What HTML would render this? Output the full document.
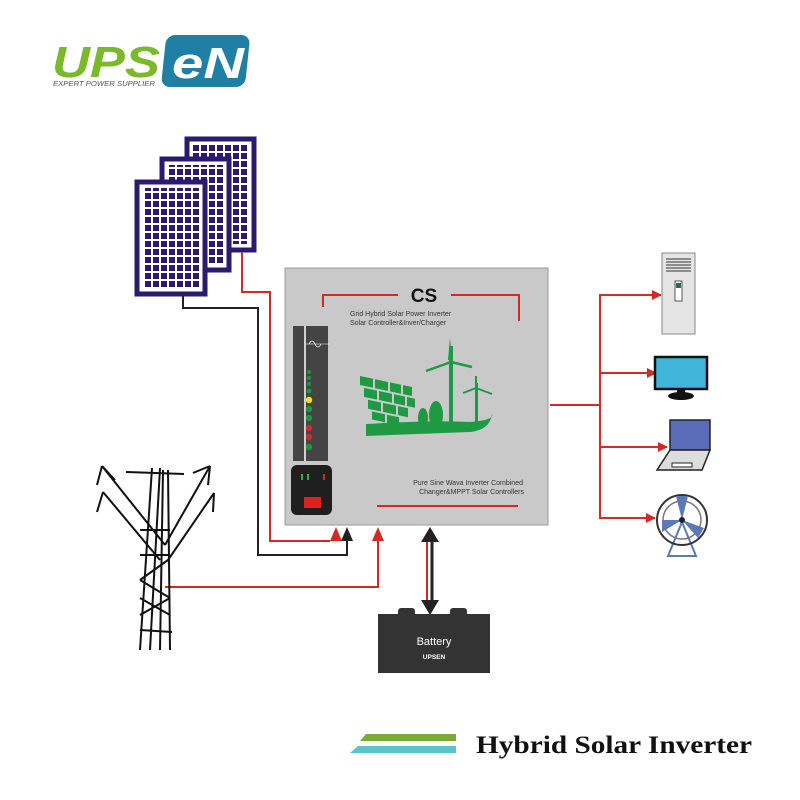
<!DOCTYPE html>
<html><head><meta charset="utf-8"><style>
html,body{margin:0;padding:0;background:#fff;width:800px;height:800px;overflow:hidden}
svg{display:block}
text{font-family:"Liberation Sans",sans-serif}
</style></head><body>
<svg width="800" height="800" viewBox="0 0 800 800" xmlns="http://www.w3.org/2000/svg">
<defs>
<pattern id="cells" x="0" y="0" width="8" height="8" patternUnits="userSpaceOnUse">
<rect x="1" y="1" width="6" height="6" fill="#2b1b6e"/></pattern>
<marker id="ar" viewBox="0 0 10 10" refX="9" refY="5" markerWidth="5" markerHeight="5" orient="auto"><path d="M0,0L10,5L0,10z" fill="#d32a25"/></marker>
</defs>
<!-- logo -->
<text x="52" y="77" font-size="44" font-weight="bold" font-style="italic" fill="#7ab929" textLength="108" lengthAdjust="spacingAndGlyphs">UPS</text>
<rect x="165" y="35" width="84" height="52" rx="9" fill="#1f7fa5" transform="skewX(-6) translate(5,0)"/>
<text x="172" y="78" font-size="44" font-weight="bold" font-style="italic" fill="#fff" textLength="72" lengthAdjust="spacingAndGlyphs">eN</text>
<text x="53" y="86" font-size="7.5" font-style="italic" fill="#555" textLength="102" lengthAdjust="spacingAndGlyphs">EXPERT POWER SUPPLIER</text>
<!-- panels -->
<g>
<rect x="187" y="139" width="67" height="111" fill="#fff" stroke="#2b1b6e" stroke-width="5"/>
<rect x="193" y="145" width="55" height="99" fill="url(#cells)"/>
<rect x="162" y="159" width="67" height="111" fill="#fff" stroke="#2b1b6e" stroke-width="5"/>
<rect x="168" y="165" width="55" height="99" fill="url(#cells)"/>
<rect x="137" y="182" width="68" height="112" fill="#fff" stroke="#2b1b6e" stroke-width="5"/>
<rect x="143" y="188" width="56" height="100" fill="url(#cells)"/>
</g>
<!-- wires -->
<polyline points="242,252 242,292 270,292 270,541 330,541" fill="none" stroke="#d32a25" stroke-width="2"/>
<polygon points="336,527 330,541 342,541" fill="#d32a25"/>
<polyline points="183,296 183,308 258,308 258,555 347,555 347,540" fill="none" stroke="#222" stroke-width="2"/>
<polygon points="347,527 341,541 353,541" fill="#222"/>
<polyline points="165,587 378,587 378,540" fill="none" stroke="#d32a25" stroke-width="2"/>
<polygon points="378,527 372,541 384,541" fill="#d32a25"/>
<line x1="427" y1="540" x2="427" y2="603" stroke="#d32a25" stroke-width="2"/>
<line x1="432" y1="540" x2="432" y2="603" stroke="#222" stroke-width="3"/>
<polygon points="430,527 421,542 439,542" fill="#222"/>
<polygon points="430,615 421,600 439,600" fill="#222"/>
<!-- inverter -->
<rect x="285" y="268" width="263" height="257" fill="#c9c9c9" stroke="#9a9a9a"/>
<polyline points="323,307 323,295 398,295" fill="none" stroke="#d32a25" stroke-width="2"/>
<polyline points="451,295 519,295 519,321" fill="none" stroke="#d32a25" stroke-width="2"/>
<text x="424" y="302" font-size="19" font-weight="bold" text-anchor="middle" fill="#111">CS</text>
<text x="350" y="316" font-size="7" fill="#333">Grid Hybrid Solar Power Inverter</text>
<text x="350" y="325" font-size="7" fill="#333">Solar Controller&amp;Inver/Charger</text>
<rect x="293" y="326" width="35" height="135" fill="#444"/>
<line x1="305" y1="326" x2="305" y2="461" stroke="#fff" stroke-width="1.5"/>
<path d="M309,344 q3,-6 6,0 t6,0" fill="none" stroke="#fff" stroke-width="0.8"/>
<line x1="305" y1="344" x2="330" y2="344" stroke="#fff" stroke-width="0.6"/>
<g fill="#1a9a3a"><circle cx="309" cy="372" r="2"/><circle cx="309" cy="378" r="2"/><circle cx="309" cy="384" r="2"/><circle cx="309" cy="391" r="2.5"/>
<circle cx="309" cy="409" r="3.2"/><circle cx="309" cy="418" r="3.2"/><circle cx="309" cy="447" r="3.2"/></g>
<circle cx="309" cy="400" r="3.2" fill="#f2e51a"/>
<circle cx="309" cy="428" r="3.2" fill="#d32a25"/><circle cx="309" cy="437" r="3.2" fill="#d32a25"/>
<rect x="291" y="465" width="41" height="50" rx="6" fill="#1f1f1f"/>
<rect x="301" y="474" width="2" height="6" fill="#2db34a"/><rect x="307" y="474" width="2" height="6" fill="#2db34a"/><rect x="323" y="474" width="2" height="6" fill="#d32a25"/>
<rect x="304" y="497" width="17" height="11" fill="#e02020"/>
<text x="523" y="485" font-size="7" text-anchor="end" fill="#333">Pure Sine Wava Inverter Combined</text>
<text x="524" y="494" font-size="7" text-anchor="end" fill="#333">Changer&amp;MPPT Solar Controllers</text>
<line x1="377" y1="506" x2="518" y2="506" stroke="#d32a25" stroke-width="2"/>
<!-- green graphic -->
<g fill="#1e9a42">
<g transform="translate(360,376) skewY(12)">
<rect x="0" y="0" width="13" height="9"/><rect x="15" y="0" width="13" height="9"/><rect x="30" y="0" width="11" height="9"/><rect x="43" y="0" width="9" height="9"/>
<rect x="4" y="11" width="13" height="9"/><rect x="19" y="11" width="13" height="9"/><rect x="34" y="11" width="11" height="9"/><rect x="47" y="11" width="8" height="9"/>
<rect x="8" y="22" width="13" height="9"/><rect x="23" y="22" width="13" height="9"/><rect x="38" y="22" width="10" height="9"/>
<rect x="12" y="33" width="13" height="8"/><rect x="27" y="33" width="12" height="8"/>
</g>
<path d="M366,424 Q430,420 470,422 Q495,420 492,414 Q490,430 470,432 L366,436z"/>
<rect x="449" y="346" width="4" height="82"/>
<path d="M450,338 L452,360 L448,360z"/>
<line x1="451" y1="362" x2="426" y2="371" stroke="#1e9a42" stroke-width="2.5"/>
<line x1="451" y1="362" x2="472" y2="367" stroke="#1e9a42" stroke-width="2.5"/>
<rect x="475" y="383" width="3" height="45"/>
<line x1="476" y1="376" x2="476" y2="388" stroke="#1e9a42" stroke-width="2"/>
<line x1="476" y1="388" x2="463" y2="393" stroke="#1e9a42" stroke-width="2"/>
<line x1="476" y1="388" x2="492" y2="394" stroke="#1e9a42" stroke-width="2"/>
<ellipse cx="436" cy="415" rx="7" ry="14"/><rect x="435" y="420" width="3" height="12"/>
<ellipse cx="423" cy="418" rx="5" ry="10"/><rect x="422" y="420" width="2" height="12"/>
</g>
<!-- battery -->
<rect x="398" y="608" width="17" height="10" rx="3" fill="#333"/><rect x="450" y="608" width="17" height="10" rx="3" fill="#333"/>
<rect x="378" y="614" width="112" height="59" fill="#333"/>
<text x="434" y="645" font-size="11" fill="#fff" text-anchor="middle">Battery</text>
<text x="434" y="659" font-size="6.5" font-weight="bold" fill="#fff" text-anchor="middle">UPSEN</text>
<!-- tower -->
<g stroke="#111" stroke-width="2" fill="none">
<line x1="152" y1="468" x2="140" y2="650"/><line x1="160" y1="468" x2="150" y2="650"/>
<line x1="163" y1="470" x2="160" y2="650"/><line x1="168" y1="470" x2="170" y2="650"/>
<line x1="126" y1="472" x2="184" y2="474"/>
<line x1="102" y1="466" x2="165" y2="545"/><line x1="102" y1="466" x2="97" y2="485"/><line x1="102" y1="466" x2="115" y2="480"/>
<line x1="103" y1="492" x2="160" y2="560"/><line x1="103" y1="492" x2="97" y2="512"/>
<line x1="210" y1="466" x2="165" y2="545"/><line x1="210" y1="466" x2="193" y2="473"/><line x1="210" y1="466" x2="208" y2="485"/>
<line x1="214" y1="493" x2="168" y2="560"/><line x1="214" y1="493" x2="213" y2="512"/>
<line x1="140" y1="530" x2="170" y2="530"/><line x1="140" y1="555" x2="170" y2="555"/>
<line x1="140" y1="580" x2="168" y2="560"/><line x1="140" y1="580" x2="170" y2="598"/>
<line x1="140" y1="598" x2="170" y2="615"/><line x1="170" y1="598" x2="140" y2="615"/>
<line x1="140" y1="630" x2="172" y2="632"/>
</g>
<!-- output -->
<line x1="550" y1="405" x2="600" y2="405" stroke="#d32a25" stroke-width="2"/>
<line x1="600" y1="294" x2="600" y2="519" stroke="#d32a25" stroke-width="2"/>
<g stroke="#d32a25" stroke-width="2" marker-end="url(#ar)">
<line x1="600" y1="295" x2="661" y2="295"/><line x1="600" y1="373" x2="656" y2="373"/>
<line x1="600" y1="447" x2="667" y2="447"/><line x1="600" y1="518" x2="655" y2="518"/>
</g>
<!-- AC -->
<rect x="662" y="253" width="33" height="81" fill="#e4e4e4" stroke="#888"/>
<g stroke="#333" stroke-width="1"><line x1="666" y1="259" x2="691" y2="259"/><line x1="666" y1="262" x2="691" y2="262"/><line x1="666" y1="265" x2="691" y2="265"/><line x1="666" y1="268" x2="691" y2="268"/><line x1="666" y1="271" x2="691" y2="271"/></g>
<rect x="675" y="281" width="7" height="20" fill="#fff" stroke="#555"/><rect x="676" y="283" width="5" height="5" fill="#2a6a4a"/>
<!-- monitor -->
<rect x="655" y="357" width="52" height="32" fill="#3fb6d9" stroke="#111" stroke-width="2.5"/>
<rect x="677" y="389" width="8" height="4" fill="#111"/><ellipse cx="681" cy="396" rx="13" ry="4" fill="#111"/>
<!-- laptop -->
<rect x="670" y="420" width="40" height="30" fill="#5b6db8" stroke="#222" stroke-width="1.5"/>
<polygon points="670,450 710,450 702,470 657,470" fill="#ddd" stroke="#222" stroke-width="1.5"/>
<rect x="672" y="463" width="20" height="4" fill="#fff" stroke="#222"/>
<!-- fan -->
<polygon points="682,522 668,556 696,556" fill="none" stroke="#5b79b8" stroke-width="2"/>
<circle cx="682" cy="520" r="25" fill="none" stroke="#333" stroke-width="2"/>
<circle cx="682" cy="520" r="19" fill="none" stroke="#777" stroke-width="1.5"/>
<g fill="#5b79b8"><path d="M682,520 L676,496 L688,496z"/><path d="M682,520 L704,528 L698,538z"/><path d="M682,520 L662,532 L662,520z"/></g>
<circle cx="682" cy="520" r="3" fill="#222"/>
<!-- title -->
<polygon points="366,734 456,734 456,741 360,741" fill="#7aab35"/>
<polygon points="358,746 456,746 456,753 350,753" fill="#5cc3cb"/>
<text x="476" y="753" font-size="25" font-weight="bold" fill="#111" textLength="276" lengthAdjust="spacingAndGlyphs" style="font-family:'Liberation Serif',serif">Hybrid Solar Inverter</text>
</svg>
</body></html>
